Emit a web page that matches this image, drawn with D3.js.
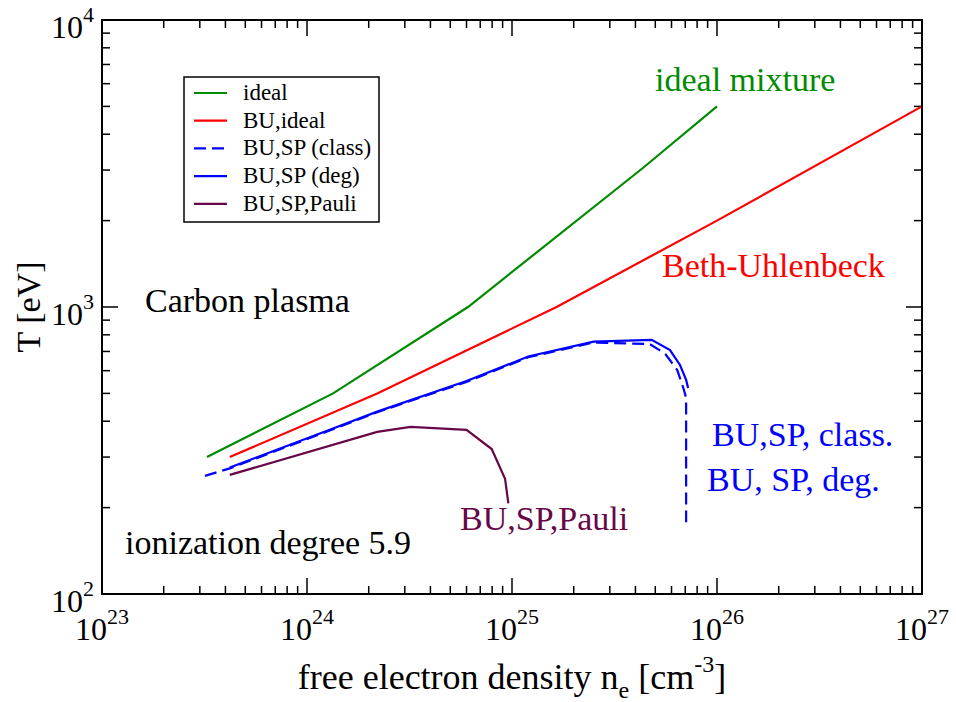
<!DOCTYPE html>
<html>
<head>
<meta charset="utf-8">
<script src="https://cdn.jsdelivr.net/npm/d3@7"></script>
<style>
  body { margin: 0; background: #fff; }
  svg { font-family: "Liberation Serif", "Times New Roman", serif; }
</style>
</head>
<body>
<div id="chart"></div>
<script>
// free electron density n_e [cm^-3] vs. temperature T [eV]
const idealMix = [[3.25e23, 300], [1.34e24, 500], [6.1e24, 1000], [4.35e25, 3050], [1e26, 5000]]
const bethUhlenbeck = [[4.2e23, 300], [2.2e24, 500], [1.65e25, 1000], [1e26, 2000], [1e27, 5000]]
const spClass = [[3.18e23, 258], [4.2e23, 274], [1.3e24, 372], [2.2e24, 430], [6e24, 548],
    [1.2e25, 668], [2.5e25, 752], [4.7e25, 743], [5.6e25, 686], [6.4e25, 603],
    [6.9e25, 514], [7.07e25, 482], [7.07e25, 178]]
const spDeg = [[4.2e23, 276], [1.3e24, 374], [2.2e24, 432], [6e24, 552], [1.2e25, 672],
    [2.5e25, 757], [4.8e25, 768], [5.9e25, 708], [6.6e25, 628], [7.07e25, 557], [7.23e25, 522]]
const pauli = [[4.2e23, 260], [2.2e24, 367], [3.2e24, 382], [6e24, 373], [7.96e24, 320],
    [9.25e24, 252], [9.6e24, 207]]

const xDomain = [1e23, 1e27]
const yDomain = [1e2, 1e4]
const xTickExp = [23, 24, 25, 26, 27]
const yTickExp = [2, 3, 4]

const series = [
    {name: 'ideal', data: idealMix, color: '#008b00', dash: null},
    {name: 'BU,ideal', data: bethUhlenbeck, color: '#ff0000', dash: null},
    {name: 'BU,SP (class)', data: spClass, color: '#0000ff', dash: '12,6'},
    {name: 'BU,SP (deg)', data: spDeg, color: '#0000ff', dash: null},
    {name: 'BU,SP,Pauli', data: pauli, color: '#670748', dash: null},
]

const labels = [
    {text: 'ideal mixture', x: 655, y: 91, color: '#008b00'},
    {text: 'Beth-Uhlenbeck', x: 662, y: 277, color: '#ff0000'},
    {text: 'Carbon plasma', x: 145, y: 312, color: '#000'},
    {text: 'BU,SP, class.', x: 712, y: 446, color: '#0000ff'},
    {text: 'BU, SP, deg.', x: 707, y: 491, color: '#0000ff'},
    {text: 'BU,SP,Pauli', x: 460, y: 530, color: '#670748'},
    {text: 'ionization degree 5.9', x: 125, y: 554, color: '#000'},
]

const width = 956, height = 702
const margin = {top: 20, right: 34, bottom: 108, left: 102}
const plotW = width - margin.left - margin.right
const plotH = height - margin.top - margin.bottom

const svg = d3.select('#chart').append('svg')
    .attr('width', width).attr('height', height)

const g = svg.append('g').attr('transform', `translate(${margin.left},${margin.top})`)

const x = d3.scaleLog().domain(xDomain).range([0, plotW])
const y = d3.scaleLog().domain(yDomain).range([plotH, 0])

// minor/major ticks, drawn inward on all four sides
const xMinor = [], yMinor = []
for (let e = 23; e < 27; e++) for (let m = 2; m <= 9; m++) xMinor.push(m * 10 ** e)
for (let e = 2; e < 4; e++) for (let m = 2; m <= 9; m++) yMinor.push(m * 10 ** e)
const xMajor = xTickExp.map(e => 10 ** e)
const yMajor = yTickExp.map(e => 10 ** e)

const ticks = g.append('g').attr('stroke', '#000').attr('stroke-width', 1.5)
const tick = (sel, vals, len, axis) => {
    vals.forEach(v => {
        if (axis === 'x') {
            const px = x(v)
            sel.append('line').attr('x1', px).attr('x2', px).attr('y1', plotH).attr('y2', plotH - len)
            sel.append('line').attr('x1', px).attr('x2', px).attr('y1', 0).attr('y2', len)
        } else {
            const py = y(v)
            sel.append('line').attr('y1', py).attr('y2', py).attr('x1', 0).attr('x2', len)
            sel.append('line').attr('y1', py).attr('y2', py).attr('x1', plotW).attr('x2', plotW - len)
        }
    })
}
tick(ticks, xMinor, 8, 'x')
tick(ticks, xMajor, 16, 'x')
tick(ticks, yMinor, 8, 'y')
tick(ticks, yMajor, 16, 'y')

// tick labels 10^n
const xLab = g.append('g').attr('font-size', 32).attr('text-anchor', 'middle')
xTickExp.forEach(e => {
    const t = xLab.append('text').attr('x', x(10 ** e)).attr('y', plotH + 46)
    t.append('tspan').text('10')
    t.append('tspan').attr('font-size', 22).attr('dy', -16).text(e)
})
const yLab = g.append('g').attr('font-size', 32).attr('text-anchor', 'end')
yTickExp.forEach(e => {
    const t = yLab.append('text').attr('x', -8).attr('y', y(10 ** e) + 18)
    t.append('tspan').text('10')
    t.append('tspan').attr('font-size', 22).attr('dy', -16).text(e)
})

// curves
const line = d3.line().x(d => x(d[0])).y(d => y(d[1]))
g.selectAll('.curve').data(series).enter().append('path')
    .attr('class', 'curve')
    .attr('d', d => line(d.data))
    .attr('fill', 'none')
    .attr('stroke', d => d.color)
    .attr('stroke-width', 2.2)
    .attr('stroke-dasharray', d => d.dash)

// frame
g.append('rect').attr('width', plotW).attr('height', plotH)
    .attr('fill', 'none').attr('stroke', '#000').attr('stroke-width', 2)

// annotations
svg.selectAll('.note').data(labels).enter().append('text')
    .attr('class', 'note')
    .attr('x', d => d.x).attr('y', d => d.y)
    .attr('fill', d => d.color)
    .attr('font-size', 34)
    .text(d => d.text)

// legend
const legend = svg.append('g').attr('transform', 'translate(184,77)')
legend.append('rect').attr('width', 195).attr('height', 145)
    .attr('fill', '#fff').attr('stroke', '#000').attr('stroke-width', 1.5)
series.forEach((s, i) => {
    const ly = 16 + i * 27.7
    legend.append('line').attr('x1', 10).attr('x2', 43).attr('y1', ly).attr('y2', ly)
        .attr('stroke', s.color).attr('stroke-width', 2.2).attr('stroke-dasharray', s.dash)
    legend.append('text').attr('x', 59).attr('y', ly + 7).attr('font-size', 23).text(s.name)
})

// axis titles
svg.append('text').attr('transform', 'translate(40,307) rotate(-90)')
    .attr('text-anchor', 'middle').attr('font-size', 34).text('T [eV]')
const xt = svg.append('text').attr('x', 512).attr('y', 689)
    .attr('text-anchor', 'middle').attr('font-size', 36)
xt.append('tspan').text('free electron density n')
xt.append('tspan').attr('font-size', 24).attr('dy', 9).text('e')
xt.append('tspan').attr('dy', -9).text(' [cm')
xt.append('tspan').attr('font-size', 24).attr('dy', -17).text('-3')
xt.append('tspan').attr('dy', 17).text(']')
</script>
</body>
</html>
